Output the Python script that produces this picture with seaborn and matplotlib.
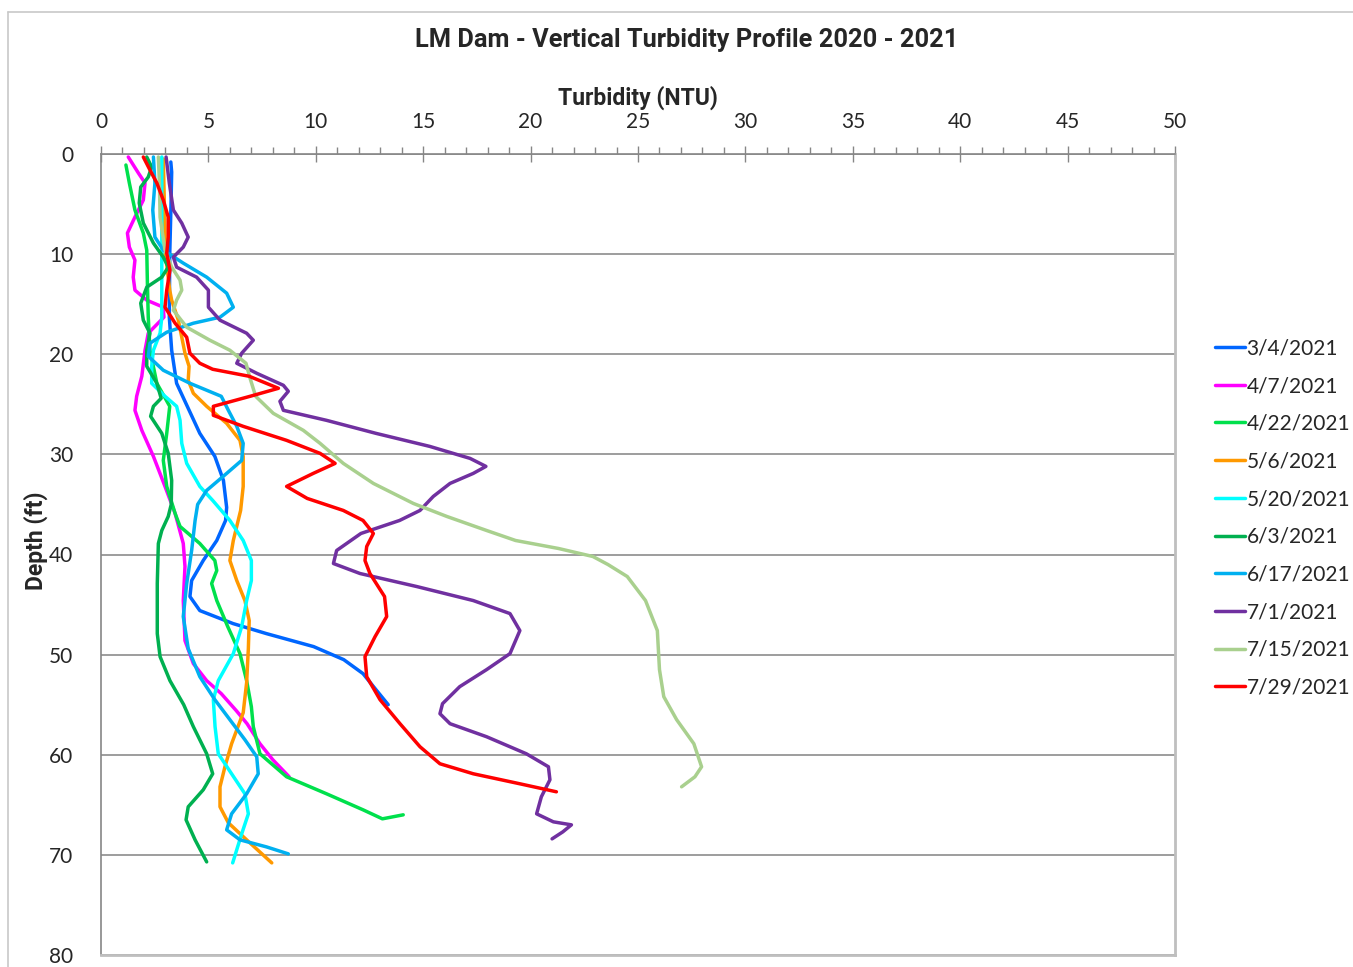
import numpy as np
import pandas as pd
import matplotlib
matplotlib.use("Agg")
import matplotlib.pyplot as plt
from matplotlib.ticker import MultipleLocator
from matplotlib.lines import Line2D
import seaborn as sns

# ---- data (depth in ft, turbidity in NTU) ----
dates = ["3/4/2021", "4/7/2021", "4/22/2021", "5/6/2021", "5/20/2021",
         "6/3/2021", "6/17/2021", "7/1/2021", "7/15/2021", "7/29/2021"]

colors = ["#0066FF", "#FF00FF", "#00E04C", "#FF9900", "#00FFFF",
          "#00B050", "#00B0F0", "#7030A0", "#A9D08E", "#FF0000"]

d_0304 = [0.8, 1.8, 5, 10, 16.3, 19.6, 22.9, 27.9, 30.2, 32.6, 35.3, 36.6, 38.6,
          40.6, 42.6, 44.2, 45.6, 46.9, 47.9, 49.2, 50.5, 51.9, 53.5, 55.0]
t_0304 = [3.25, 3.29, 3.26, 3.2, 3.18, 3.29, 3.52, 4.6, 5.3, 5.7, 5.85, 5.8, 5.39,
          4.76, 4.22, 4.14, 4.6, 6.15, 7.7, 9.9, 11.3, 12.2, 12.8, 13.37]

d_0407 = [0.3, 1.9, 2.9, 4.6, 6.3, 7.9, 9.3, 10.6, 12.3, 13.6, 14.6, 15.3, 16.3,
          17.9, 19.6, 22.2, 24.2, 25.6, 27.6, 30.2, 33.2, 35.9, 38.9, 41.2, 44.6,
          48.6, 50.9, 52.6, 53.9, 55.6, 56.9, 58.9, 60.5, 62.2]
t_0407 = [1.27, 1.74, 2.05, 1.97, 1.58, 1.23, 1.32, 1.58, 1.5, 1.58, 2.13, 2.9, 2.93,
          2.2, 2.05, 1.9, 1.66, 1.58, 1.9, 2.44, 2.98, 3.45, 3.83, 3.91, 3.83,
          3.91, 4.3, 4.92, 5.6, 6.3, 6.8, 7.4, 8.0, 8.76]

d_0422 = [1.1, 2.9, 5.6, 7.9, 9.6, 12.9, 16.3, 19.6, 22.9, 25.2, 27.9, 30.6, 33.2,
          35.9, 37.2, 38.9, 40.6, 41.6, 42.9, 44.6, 47.2, 49.9, 52.6, 55.2, 57.2,
          59.9, 62.2, 63.9, 65.5, 66.4, 66.0]
t_0422 = [1.16, 1.32, 1.58, 1.97, 2.13, 2.16, 2.2, 2.28, 2.6, 3.2, 3.06, 2.9, 3.06,
          3.45, 3.68, 4.6, 5.3, 5.39, 5.15, 5.39, 5.9, 6.47, 6.78, 7.0, 7.09,
          7.4, 8.64, 10.5, 12.2, 13.1, 14.07]

d_0506 = [0.5, 5, 10, 13.6, 14.6, 16.6, 18.3, 19.9, 21.2, 22.6, 23.9, 25.2, 26.9,
          28.6, 30.2, 33.2, 35.6, 38.6, 40.6, 42.6, 44.6, 46.6, 49.4, 52.8, 55.8,
          58.9, 61.2, 63.2, 65.2, 66.8, 68.5, 70.8]
t_0506 = [2.9, 2.95, 3.0, 3.2, 3.29, 3.6, 3.76, 3.91, 4.1, 4.06, 4.3, 4.92, 5.85,
          6.47, 6.62, 6.62, 6.5, 6.16, 6.0, 6.32, 6.7, 6.9, 6.86, 6.78, 6.62,
          6.08, 5.77, 5.54, 5.54, 5.93, 6.78, 7.95]

d_0520 = [0.3, 5, 10, 16.3, 17.9, 19.6, 21.2, 22.9, 24.2, 25.2, 26.6, 28.9, 30.9,
          33.2, 34.6, 36.6, 38.6, 40.6, 42.6, 44.6, 47.2, 49.9, 52.6, 54.5, 57.2,
          59.9, 61.9, 63.9, 65.9, 67.9, 70.8]
t_0520 = [2.83, 2.83, 2.83, 2.83, 2.75, 2.44, 2.36, 2.36, 2.98, 3.52, 3.68, 3.76, 3.99,
          4.6, 5.2, 6.0, 6.62, 7.0, 7.0, 6.78, 6.55, 6.16, 5.46, 5.23, 5.31,
          5.46, 6.08, 6.7, 6.86, 6.55, 6.13]

d_0603 = [0.3, 1.3, 2.3, 3.3, 4.9, 6.9, 8.9, 10.3, 11.3, 12.3, 13.3, 14.9, 16.6,
          17.9, 19.6, 21.2, 22.9, 24.4, 25.2, 26.2, 27.9, 29.9, 32.6, 35.0, 36.2,
          37.6, 38.9, 42.9, 47.9, 50.2, 52.6, 55.0, 57.2, 59.9, 61.9, 63.5, 65.2,
          66.5, 68.5, 70.7]
t_0603 = [2.13, 2.36, 2.2, 1.85, 1.78, 1.97, 2.44, 2.9, 3.13, 2.83, 2.13, 1.85, 1.97,
          2.28, 2.13, 2.13, 2.6, 2.8, 2.44, 2.31, 2.83, 3.13, 3.29, 3.27, 3.13,
          2.83, 2.67, 2.62, 2.62, 2.75, 3.21, 3.85, 4.3, 4.92, 5.2, 4.76, 4.06,
          3.96, 4.38, 4.92]

d_0617 = [0.3, 2.9, 5.6, 8.3, 9.6, 10.9, 12.3, 13.9, 15.3, 16.3, 16.9, 17.8, 18.9,
          20.2, 21.6, 22.9, 24.2, 25.6, 27.2, 28.9, 30.6, 31.9, 33.6, 35.0, 36.6,
          39.6, 42.9, 46.2, 49.4, 52.2, 54.5, 56.5, 58.5, 60.2, 61.9, 63.9, 65.9,
          67.5, 68.5, 69.2, 69.9]
t_0617 = [2.44, 2.51, 2.41, 2.51, 2.9, 3.83, 4.92, 5.85, 6.16, 5.54, 4.3, 3.06, 2.28,
          2.2, 2.9, 4.14, 5.6, 5.93, 6.32, 6.62, 6.55, 5.85, 4.92, 4.5, 4.38,
          4.22, 3.99, 3.83, 4.06, 4.6, 5.3, 6.0, 6.7, 7.25, 7.32, 6.78, 6.08,
          5.85, 6.47, 7.7, 8.72]

d_0701 = [0.3, 2.9, 5.6, 6.9, 8.3, 9.3, 10.3, 11.3, 12.3, 13.6, 15.3, 16.6, 17.9,
          18.6, 19.9, 20.9, 21.9, 23.1, 23.7, 24.7, 25.6, 26.6, 27.9, 29.2, 30.4,
          31.2, 31.9, 32.9, 34.2, 35.6, 36.6, 37.9, 39.6, 40.9, 41.9, 43.2, 44.6,
          45.9, 47.6, 49.9, 51.5, 53.2, 54.9, 55.9, 56.9, 58.2, 59.9, 61.2, 62.5,
          64.2, 65.9, 66.7, 67.0, 67.7, 68.4]
t_0701 = [3.03, 3.18, 3.37, 3.76, 4.06, 3.83, 3.37, 3.52, 4.45, 5.0, 5.0, 5.54, 6.78,
          7.09, 6.55, 6.32, 7.25, 8.49, 8.72, 8.33, 8.49, 10.5, 12.8, 15.3, 17.18,
          17.92, 17.33, 16.25, 15.47, 14.85, 13.9, 12.1, 10.97, 10.82, 12.06, 14.7,
          17.33, 19.04, 19.5, 19.04, 17.95, 16.7, 15.9, 15.78, 16.25, 17.95, 19.8,
          20.83, 20.9, 20.5, 20.28, 21.06, 21.9, 21.5, 21.0]

d_0715 = [0.3, 2.9, 6.3, 9.6, 11.3, 12.6, 13.6, 14.6, 15.6, 17.3, 18.6, 19.6, 20.9,
          22.4, 24.2, 25.9, 27.6, 28.9, 30.9, 32.9, 34.9, 36.2, 37.6, 38.6, 39.4,
          40.2, 41.0, 42.2, 44.6, 47.6, 51.5, 54.2, 56.5, 58.9, 61.2, 62.2, 63.2]
t_0715 = [2.67, 2.72, 2.75, 2.98, 3.29, 3.68, 3.76, 3.52, 3.37, 3.99, 5.07, 6.0, 6.75,
          6.94, 7.2, 8.02, 9.42, 10.2, 11.28, 12.68, 14.54, 16.1, 17.95, 19.3, 21.3,
          22.9, 23.6, 24.5, 25.35, 25.9, 26.0, 26.2, 26.8, 27.6, 27.96, 27.65, 27.03]

d_0729 = [0.3, 1.6, 2.9, 4.6, 6.3, 8.3, 9.9, 11.6, 13.6, 15.3, 16.9, 18.3, 19.9,
          20.9, 21.5, 22.2, 23.4, 24.2, 25.2, 26.1, 27.2, 28.6, 29.9, 30.9, 31.9,
          33.2, 34.4, 35.6, 36.6, 37.9, 39.2, 40.6, 41.9, 44.2, 46.2, 48.2, 50.2,
          52.2, 54.5, 56.9, 59.2, 60.9, 61.9, 62.9, 63.7]
t_0729 = [1.97, 2.28, 2.6, 2.9, 3.13, 3.13, 3.06, 3.21, 3.06, 2.98, 3.45, 3.99, 4.14,
          4.6, 5.2, 6.9, 8.26, 6.94, 5.23, 5.23, 6.62, 8.64, 10.2, 10.9, 9.88,
          8.64, 9.6, 11.28, 12.2, 12.68, 12.37, 12.29, 12.52, 13.2, 13.3, 12.76,
          12.29, 12.37, 12.99, 13.92, 14.85, 15.78, 17.33, 19.5, 21.2]

depths = [d_0304, d_0407, d_0422, d_0506, d_0520, d_0603, d_0617, d_0701, d_0715, d_0729]
turbs = [t_0304, t_0407, t_0422, t_0506, t_0520, t_0603, t_0617, t_0701, t_0715, t_0729]

frames = []
for date, d, t in zip(dates, depths, turbs):
    frames.append(pd.DataFrame({"Date": date, "Depth": d, "Turbidity": t}))
df = pd.concat(frames, ignore_index=True)

# ---- figure ----
sns.set_style("white")
plt.rcParams['font.family'] = ['Lato', 'DejaVu Sans']
bold_font = ['Roboto', 'DejaVu Sans']

fig = plt.figure(figsize=(13.53, 9.67), dpi=100)
ax = fig.add_axes([101 / 1353, 1 - 955 / 967, (1175 - 101) / 1353, (955 - 154) / 967])

sns.lineplot(data=df, x="Turbidity", y="Depth", hue="Date", hue_order=dates,
             palette=colors, sort=False, estimator=None, orient="y",
             linewidth=2.5, ax=ax, legend=False)
for ln in ax.get_lines():
    ln.set_solid_joinstyle("round")
    ln.set_solid_capstyle("round")

ax.set_xlim(0, 50)
ax.set_ylim(80, 0)
ax.xaxis.set_ticks_position("top")
ax.xaxis.set_label_position("top")
ax.xaxis.set_major_locator(MultipleLocator(5))
ax.xaxis.set_minor_locator(MultipleLocator(1))
ax.yaxis.set_major_locator(MultipleLocator(10))
ax.yaxis.set_minor_locator(MultipleLocator(2))

tick_gray = "#868686"
ax.tick_params(axis="x", which="major", direction="inout", length=12, width=1,
               color=tick_gray, labelsize=15, pad=10)
ax.tick_params(axis="x", which="minor", direction="out", length=5, width=1,
               color=tick_gray)
ax.tick_params(axis="y", which="major", direction="out", length=8, width=1,
               color=tick_gray, labelsize=15, pad=12)
ax.tick_params(axis="y", which="minor", direction="out", length=5, width=1,
               color=tick_gray)

ax.grid(axis="y", which="major", color="#8C8C8C", linewidth=1.2)
ax.grid(axis="x", visible=False)

for side in ["top", "left"]:
    ax.spines[side].set_color(tick_gray)
    ax.spines[side].set_linewidth(1.2)
for side in ["right", "bottom"]:
    ax.spines[side].set_color("#BFBFBF")
    ax.spines[side].set_linewidth(2)

ax.set_xlabel("Turbidity (NTU)", fontsize=16.5, fontweight="bold",
              family=bold_font, labelpad=5)
ax.set_ylabel("Depth (ft)", fontsize=16.5, fontweight="bold", family=bold_font)
ax.yaxis.set_label_coords(-0.049, 0.517)

fig.text(687 / 1353, 1 - 40 / 967, "LM Dam - Vertical Turbidity Profile 2020 - 2021",
         ha="center", va="center", fontsize=18.3, fontweight="bold", family=bold_font)

handles = [Line2D([0], [0], color=c, linewidth=2.5) for c in colors]
fig.legend(handles, dates, loc="upper left", bbox_to_anchor=(1207 / 1353, 1 - 330 / 967),
           frameon=False, fontsize=15, handlelength=1.4, handletextpad=0.1,
           labelspacing=0.85, borderaxespad=0)

# outer chart border (left and top visible)
fig.add_artist(Line2D([8 / 1353, 8 / 1353], [0, 1 - 12 / 967], color="#C8C8C8",
                      linewidth=1.2, transform=fig.transFigure))
fig.add_artist(Line2D([8 / 1353, 1], [1 - 12 / 967, 1 - 12 / 967], color="#C8C8C8",
                      linewidth=1.2, transform=fig.transFigure))

fig.savefig("out.png", dpi=100)
